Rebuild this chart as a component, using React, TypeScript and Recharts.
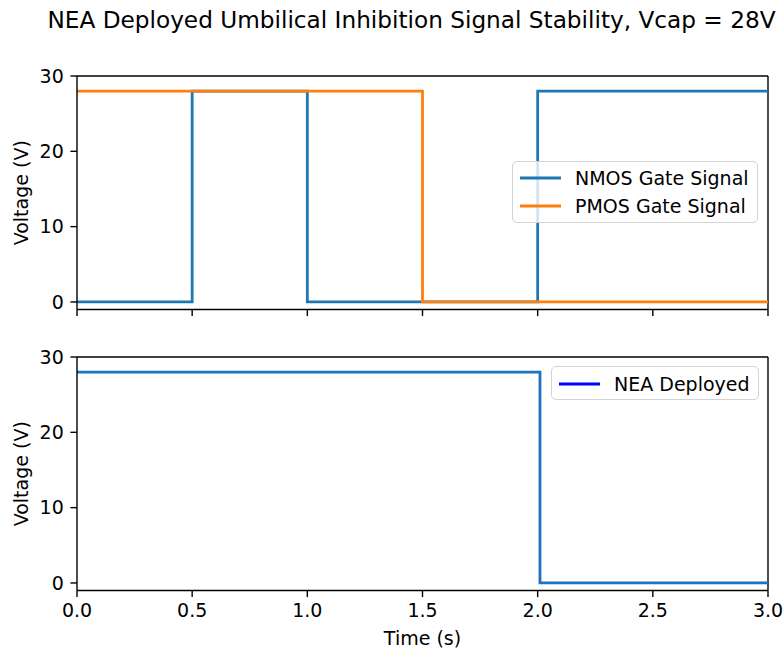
import React from 'react';
import { LineChart, Line, XAxis, YAxis, ReferenceLine, Legend } from 'recharts';

const timeTop = [0, 0.5, 1, 1.5, 2, 3];
const nmosValues = [0, 28, 0, 0, 28, 28];
const pmosValues = [28, 28, 28, 0, 0, 0];
const timeBottom = [0, 2.01, 3];
const neaValues = [28, 0, 0];
const xTicks = [0, 0.5, 1, 1.5, 2, 2.5, 3];
const yTicks = [0, 10, 20, 30];

const topData = timeTop.map((t, i) => ({ t, nmos: nmosValues[i], pmos: pmosValues[i] }));
const bottomData = timeBottom.map((t, i) => ({ t, nea: neaValues[i] }));

const FONT = '"DejaVu Sans", sans-serif';
const FS = 19;
const LW = 2.8;
const SPINE = 1.4;
const TICK = 6.6;

const handleColors: Record<string, string> = {
  'NMOS Gate Signal': '#1f77b4',
  'PMOS Gate Signal': '#ff7f0e',
  'NEA Deployed': '#0000ff',
};

const LegendBox = (props: any) => {
  const { payload, width, height, padTop } = props;
  return (
    <div
      style={{
        boxSizing: 'border-box',
        width,
        height,
        border: '1.3px solid #d3d3d3',
        borderRadius: 5,
        background: 'rgba(255,255,255,0.8)',
        paddingTop: padTop,
        fontFamily: FONT,
        fontSize: FS,
        color: '#000',
      }}
    >
      {(payload || []).map((e: any) => (
        <div key={e.value} style={{ display: 'flex', alignItems: 'center', height: 28 }}>
          <svg width={56} height={10} style={{ marginLeft: 6, flex: 'none' }}>
            <line x1={1} y1={5} x2={42} y2={5} stroke={handleColors[e.value] || e.color} strokeWidth={LW} />
          </svg>
          <span style={{ whiteSpace: 'nowrap', lineHeight: '28px' }}>{e.value}</span>
        </div>
      ))}
    </div>
  );
};

const yLabel = (props: any) => {
  const vb = props.viewBox || {};
  const cx = 21;
  const cy = vb.y + vb.height / 2;
  return (
    <text
      x={cx}
      y={cy}
      transform={`rotate(-90, ${cx}, ${cy})`}
      textAnchor="middle"
      dominantBaseline="central"
      fontFamily={FONT}
      fontSize={FS}
      fill="#000"
    >
      Voltage (V)
    </text>
  );
};

const xLabel = (props: any) => {
  const vb = props.viewBox || {};
  const cx = vb.x + vb.width / 2;
  const cy = vb.y + 47;
  return (
    <text x={cx} y={cy} textAnchor="middle" dominantBaseline="central" fontFamily={FONT} fontSize={FS} fill="#000">
      Time (s)
    </text>
  );
};

const tickStyle = { fontFamily: FONT, fontSize: FS, fill: '#000' };
const axisLine = { stroke: '#000', strokeWidth: SPINE };
const tickLine = { stroke: '#000', strokeWidth: SPINE };

export default function App() {
  return (
    <div style={{ position: 'absolute', left: 0, top: 0, width: 784, height: 653, background: '#fff' }}>
      <svg width={784} height={50} style={{ position: 'absolute', left: 0, top: 0 }}>
        <text x={411.5} y={28} textAnchor="middle" fontFamily={FONT} fontSize={23.2} fill="#000">
          NEA Deployed Umbilical Inhibition Signal Stability, Vcap = 28V
        </text>
      </svg>
      <div style={{ position: 'absolute', left: 0, top: 0 }}>
        <LineChart width={784} height={330} data={topData} margin={{ top: 76, right: 16, left: 0, bottom: 0 }}>
          <XAxis
            dataKey="t"
            type="number"
            domain={[0, 3]}
            ticks={xTicks}
            allowDataOverflow
            height={20.5}
            tickSize={TICK}
            tickFormatter={() => ''}
            axisLine={axisLine}
            tickLine={tickLine}
          />
          <YAxis
            type="number"
            domain={[-1, 30]}
            ticks={yTicks}
            allowDataOverflow
            width={77}
            tickSize={TICK}
            tickMargin={TICK}
            tick={tickStyle}
            axisLine={axisLine}
            tickLine={tickLine}
            label={{ content: yLabel }}
          />
          <ReferenceLine y={30} stroke="#000" strokeWidth={SPINE} />
          <ReferenceLine x={3} stroke="#000" strokeWidth={SPINE} />
          <Line
            type="stepAfter"
            dataKey="nmos"
            name="NMOS Gate Signal"
            stroke="#1f77b4"
            strokeWidth={LW}
            dot={false}
            activeDot={false}
            isAnimationActive={false}
          />
          <Line
            type="stepAfter"
            dataKey="pmos"
            name="PMOS Gate Signal"
            stroke="#ff7f0e"
            strokeWidth={LW}
            dot={false}
            activeDot={false}
            isAnimationActive={false}
          />
          <Legend
            layout="vertical"
            align="center"
            verticalAlign="middle"
            wrapperStyle={{ position: 'absolute', left: 512, top: 161, width: 'auto', height: 'auto' }}
            content={(p: any) => <LegendBox payload={p.payload} width={246} height={62} padTop={2} />}
          />
        </LineChart>
      </div>
      <div style={{ position: 'absolute', left: 0, top: 0 }}>
        <LineChart width={784} height={653} data={bottomData} margin={{ top: 357, right: 16, left: 0, bottom: 0 }}>
          <XAxis
            dataKey="t"
            type="number"
            domain={[0, 3]}
            ticks={xTicks}
            allowDataOverflow
            height={62.5}
            tickSize={TICK}
            tickMargin={TICK}
            tick={tickStyle}
            tickFormatter={(v: number) => v.toFixed(1)}
            axisLine={axisLine}
            tickLine={tickLine}
            label={{ content: xLabel }}
          />
          <YAxis
            type="number"
            domain={[-1, 30]}
            ticks={yTicks}
            allowDataOverflow
            width={77}
            tickSize={TICK}
            tickMargin={TICK}
            tick={tickStyle}
            axisLine={axisLine}
            tickLine={tickLine}
            label={{ content: yLabel }}
          />
          <ReferenceLine y={30} stroke="#000" strokeWidth={SPINE} />
          <ReferenceLine x={3} stroke="#000" strokeWidth={SPINE} />
          <Line
            type="stepAfter"
            dataKey="nea"
            name="NEA Deployed"
            stroke="#1f72c2"
            strokeWidth={LW}
            dot={false}
            activeDot={false}
            isAnimationActive={false}
          />
          <Legend
            layout="vertical"
            align="center"
            verticalAlign="middle"
            wrapperStyle={{ position: 'absolute', left: 551, top: 366, width: 'auto', height: 'auto' }}
            content={(p: any) => <LegendBox payload={p.payload} width={208} height={34} padTop={3} />}
          />
        </LineChart>
      </div>
    </div>
  );
}
